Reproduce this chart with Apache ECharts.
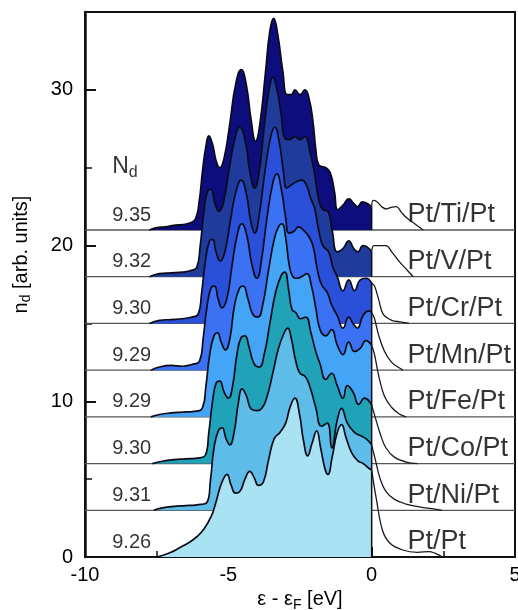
<!DOCTYPE html>
<html><head><meta charset="utf-8">
<script src="https://cdn.jsdelivr.net/npm/echarts/dist/echarts.min.js"></script>
<style>html,body{margin:0;padding:0;background:#fff}#c{width:518px;height:610px}</style>
</head><body><div id="c"></div>
<script>
// ---- data (values relative to each curve's baseline) ----
const systems = ['Pt/Pt','Pt/Ni/Pt','Pt/Co/Pt','Pt/Fe/Pt','Pt/Mn/Pt','Pt/Cr/Pt','Pt/V/Pt','Pt/Ti/Pt'];
const offsets = [0,3,6,9,12,15,18,21];
const ndValues = ['9.26','9.31','9.30','9.29','9.29','9.30','9.32','9.35'];
const xTicks = [-10,-5,0,5];
const yTicks = [0,10,20,30];

const occPtPt = [[-7.55,0],[-7.3,0.1],[-7.0,0.3],[-6.7,0.6],[-6.4,0.9],[-6.1,1.3],[-5.85,1.8],[-5.6,2.6],[-5.45,3.4],[-5.3,4.4],[-5.15,5.1],[-5.05,5.3],[-4.9,4.6],[-4.75,4.1],[-4.6,4.2],[-4.42,5.0],[-4.25,5.5],[-4.1,5.1],[-3.95,4.6],[-3.78,4.8],[-3.6,6.2],[-3.4,7.6],[-3.2,8.0],[-3.0,8.6],[-2.85,9.6],[-2.68,10.2],[-2.52,9.2],[-2.38,7.5],[-2.23,6.5],[-2.08,7.3],[-1.92,8.1],[-1.78,7.0],[-1.62,5.6],[-1.53,5.3],[-1.38,6.4],[-1.2,8.0],[-1.05,8.5],[-0.9,7.7],[-0.7,6.7],[-0.5,6.2],[-0.3,6.0],[-0.1,5.7],[0,5.6]];
const occNi = [[-7.6,0],[-7.3,0.15],[-6.9,0.25],[-6.5,0.3],[-6.1,0.35],[-5.75,0.5],[-5.62,2.0],[-5.5,4.0],[-5.35,5.1],[-5.22,5.3],[-5.08,4.6],[-4.95,4.2],[-4.8,5.0],[-4.65,6.9],[-4.52,7.8],[-4.38,7.4],[-4.2,6.5],[-4.0,6.4],[-3.83,6.55],[-3.65,7.3],[-3.45,8.8],[-3.25,10.4],[-3.05,11.4],[-2.93,11.7],[-2.8,11.0],[-2.65,9.6],[-2.5,8.8],[-2.32,8.6],[-2.15,7.9],[-1.95,6.6],[-1.75,5.4],[-1.55,5.6],[-1.39,4.0],[-1.2,5.8],[-1.05,6.55],[-0.85,5.6],[-0.6,5.0],[-0.4,4.8],[-0.2,4.6],[0,4.2]];
const occCo = [[-7.65,0],[-7.3,0.15],[-6.9,0.25],[-6.5,0.3],[-6.1,0.35],[-5.8,0.55],[-5.68,2.0],[-5.55,4.0],[-5.42,5.2],[-5.3,5.3],[-5.15,4.6],[-5.0,4.2],[-4.85,5.0],[-4.7,7.0],[-4.55,8.1],[-4.42,8.2],[-4.28,7.5],[-4.1,6.4],[-3.92,6.2],[-3.75,7.0],[-3.55,9.0],[-3.35,11.0],[-3.15,12.1],[-3.03,12.3],[-2.9,11.2],[-2.78,9.9],[-2.65,9.7],[-2.48,9.3],[-2.3,9.4],[-2.12,8.4],[-1.95,7.2],[-1.8,6.4],[-1.6,5.4],[-1.4,5.8],[-1.2,5.0],[-1.0,4.2],[-0.85,5.0],[-0.65,4.6],[-0.45,3.8],[-0.25,4.2],[0,3.75]];
const occFe = [[-7.7,0],[-7.4,0.15],[-7.0,0.25],[-6.6,0.3],[-6.2,0.35],[-5.9,0.6],[-5.78,2.0],[-5.65,4.0],[-5.5,5.2],[-5.38,5.4],[-5.25,4.8],[-5.1,4.3],[-4.95,5.0],[-4.78,7.2],[-4.6,8.3],[-4.48,8.4],[-4.32,7.6],[-4.15,6.6],[-3.97,6.4],[-3.8,7.2],[-3.6,9.4],[-3.4,11.4],[-3.25,12.2],[-3.13,12.4],[-3.0,11.5],[-2.88,9.8],[-2.75,9.0],[-2.6,8.9],[-2.45,9.0],[-2.26,9.2],[-2.1,8.4],[-1.95,7.0],[-1.8,5.6],[-1.6,5.2],[-1.4,5.6],[-1.2,4.6],[-1.0,4.0],[-0.8,4.8],[-0.6,4.2],[-0.4,4.4],[-0.2,4.9],[0,4.6]];
const occMn = [[-7.7,0],[-7.4,0.2],[-7.0,0.3],[-6.6,0.25],[-6.3,0.35],[-6.0,0.6],[-5.88,2.0],[-5.75,4.0],[-5.6,5.3],[-5.48,5.4],[-5.36,4.6],[-5.22,4.0],[-5.05,4.6],[-4.88,6.6],[-4.7,8.6],[-4.53,9.4],[-4.35,8.6],[-4.18,6.8],[-4.0,5.9],[-3.85,7.0],[-3.65,9.8],[-3.45,12.0],[-3.31,12.6],[-3.15,11.6],[-3.0,9.8],[-2.88,8.8],[-2.72,8.9],[-2.55,9.2],[-2.38,9.0],[-2.2,8.6],[-2.05,8.0],[-1.9,6.5],[-1.75,5.5],[-1.55,5.0],[-1.4,4.2],[-1.2,3.5],[-1.0,2.7],[-0.8,3.4],[-0.65,3.0],[-0.5,2.7],[-0.3,3.5],[-0.1,3.8],[0,3.7]];
const occCr = [[-7.75,0],[-7.4,0.2],[-7.0,0.25],[-6.6,0.3],[-6.3,0.4],[-6.05,0.6],[-5.93,2.0],[-5.8,4.0],[-5.66,5.3],[-5.55,5.4],[-5.43,4.6],[-5.28,4.0],[-5.12,4.6],[-4.93,6.6],[-4.73,8.5],[-4.55,9.2],[-4.38,8.4],[-4.22,6.6],[-4.08,5.8],[-3.92,7.0],[-3.72,9.8],[-3.52,12.0],[-3.38,12.6],[-3.22,11.6],[-3.08,9.8],[-2.96,8.7],[-2.8,8.9],[-2.62,9.1],[-2.44,9.2],[-2.28,8.9],[-2.12,8.0],[-1.99,7.4],[-1.85,6.0],[-1.7,5.0],[-1.5,4.6],[-1.35,3.6],[-1.2,3.0],[-1.0,2.1],[-0.8,2.8],[-0.6,2.1],[-0.4,2.8],[-0.2,2.9],[0,2.6]];
const occV = [[-7.75,0],[-7.4,0.2],[-7.0,0.25],[-6.6,0.3],[-6.3,0.4],[-6.1,0.6],[-5.98,2.0],[-5.85,4.2],[-5.72,5.5],[-5.6,5.6],[-5.48,4.8],[-5.33,4.2],[-5.18,4.7],[-4.98,6.8],[-4.78,8.8],[-4.6,9.6],[-4.42,8.8],[-4.25,6.8],[-4.08,5.7],[-3.92,6.8],[-3.75,9.6],[-3.58,12.0],[-3.45,12.8],[-3.3,12.0],[-3.15,10.3],[-3.03,8.9],[-2.85,8.8],[-2.68,9.0],[-2.5,8.8],[-2.33,9.0],[-2.15,8.0],[-1.99,6.6],[-1.85,5.0],[-1.7,4.3],[-1.53,4.2],[-1.38,3.0],[-1.2,1.6],[-1.0,1.8],[-0.8,2.3],[-0.62,1.8],[-0.48,1.6],[-0.3,2.0],[-0.15,1.9],[0,1.6]];
const occTi = [[-7.75,0],[-7.5,0.15],[-7.2,0.2],[-6.9,0.3],[-6.6,0.35],[-6.35,0.45],[-6.15,0.7],[-6.02,1.8],[-5.9,3.8],[-5.78,5.4],[-5.68,6.05],[-5.55,5.5],[-5.42,4.4],[-5.3,4.0],[-5.15,4.6],[-4.95,6.8],[-4.75,9.3],[-4.55,10.3],[-4.38,9.4],[-4.2,7.0],[-4.05,5.7],[-3.9,6.8],[-3.7,10.2],[-3.55,12.8],[-3.42,13.6],[-3.28,12.6],[-3.1,10.2],[-2.95,8.7],[-2.8,8.7],[-2.68,9.0],[-2.5,8.7],[-2.33,9.0],[-2.18,8.4],[-2.05,7.0],[-1.95,5.2],[-1.85,4.2],[-1.6,4.0],[-1.45,3.7],[-1.3,2.5],[-1.18,1.3],[-1.0,1.6],[-0.8,2.0],[-0.62,1.7],[-0.49,1.5],[-0.33,1.8],[-0.15,1.7],[0,1.45]];

const unoccPtPt = [[0,5.6],[0.17,3.65],[0.38,1.7],[0.63,0.9],[1.08,0.45],[1.6,0.3],[2.0,0.35],[2.2,0.25],[2.47,0]];
const unoccNi = [[0,4.2],[0.12,3.3],[0.3,2.0],[0.5,1.2],[0.8,0.7],[1.2,0.4],[1.7,0.2],[2.1,0.1],[2.45,0]];
const unoccCo = [[0,3.75],[0.12,3.0],[0.3,1.9],[0.5,1.0],[0.8,0.4],[1.2,0.1],[1.6,0]];
const unoccFe = [[0,4.6],[0.1,4.0],[0.25,2.6],[0.45,1.3],[0.7,0.6],[0.95,0.2],[1.2,0]];
const unoccMn = [[0,3.7],[0.1,3.3],[0.25,2.2],[0.45,1.2],[0.7,0.5],[1.0,0.1],[1.1,0]];
const unoccCr = [[0,2.6],[0.1,2.4],[0.25,1.5],[0.4,0.6],[0.7,0.2],[1.0,0.1],[1.3,0]];
const unoccV = [[0,1.6],[0.08,2.0],[0.3,2.0],[0.5,2.0],[0.7,1.6],[0.95,1.0],[1.2,0.5],[1.45,0]];
const unoccTi = [[0,1.45],[0.05,1.9],[0.16,1.85],[0.35,1.5],[0.51,1.35],[0.68,1.45],[0.86,1.5],[1.05,1.1],[1.21,0.8],[1.5,0.4],[1.8,0]];

const occupied = [occPtPt, occNi, occCo, occFe, occMn, occCr, occV, occTi];
const unoccupied = [unoccPtPt, unoccNi, unoccCo, unoccFe, unoccMn, unoccCr, unoccV, unoccTi];
const fillColors = ['#a9e3f3','#5ebde8','#20a2b9','#44a4f6','#3b72f3','#2a4fd8','#1f3c9c','#0d0d7d'];

// ---- build ----
const FONT = 'Liberation Sans, Arial, Helvetica, sans-serif';
const TXT = '#000';
const OUT = '#0b0b18';
const series = [];
// baselines
offsets.forEach((b) => {
  if (b === 0) return;
  series.push({type:'line', data:[[-10,b],[5,b]], symbol:'none', silent:true,
    lineStyle:{color:'#555', width:1.3}, z:1});
});
// filled curves, top first so lower ones overlay
for (let i = occupied.length - 1; i >= 0; i--) {
  const b = offsets[i];
  series.push({
    type:'line', name: systems[i], symbol:'none', silent:true, smooth:0.5,
    data: occupied[i].map(p => [p[0], b + p[1]]),
    lineStyle:{color:OUT, width:1.7},
    areaStyle:{color: fillColors[i], opacity:1, origin: b},
    z:2
  });
}
// vertical edges at Fermi level
const edges = [];
occupied.forEach((arr, i) => {
  const last = arr[arr.length - 1];
  edges.push([0, offsets[i]], [0, offsets[i] + last[1]], '-');
});
series.push({type:'line', data:edges, symbol:'none', silent:true, connectNulls:false,
  lineStyle:{color:OUT, width:1.5}, z:3});
// unoccupied tails
unoccupied.forEach((arr, i) => {
  series.push({type:'line', symbol:'none', silent:true, smooth:0.4,
    data: arr.map(p => [p[0], offsets[i] + p[1]]),
    lineStyle:{color:'#1a1a1a', width:1.3}, z:3});
});
// N_d values
series.push({type:'scatter', symbolSize:0, silent:true, z:5,
  data: offsets.map((b, i) => ({value:[-9.05, b], name: ndValues[i]})),
  label:{show:true, position:'right', distance:0, offset:[0,-15], formatter:p => p.name,
    fontFamily:FONT, fontSize:20, color:TXT}});
// system labels
series.push({type:'scatter', symbolSize:0, silent:true, z:5,
  data: offsets.map((b, i) => ({value:[1.25, b], name: systems[i]})),
  label:{show:true, position:'right', distance:0, offset:[0,-15], formatter:p => p.name,
    fontFamily:FONT, fontSize:27, color:TXT}});
// N_d header
series.push({type:'scatter', symbolSize:0, silent:true, z:5,
  data:[[-9.05, 25.05]],
  label:{show:true, position:'right', distance:0, formatter:'{n|N}{d|d}',
    rich:{n:{fontFamily:FONT, fontSize:23, color:TXT}, d:{fontFamily:FONT, fontSize:16, color:TXT, padding:[12,0,0,0]}}}});

const chart = echarts.init(document.getElementById('c'), null, {renderer:'canvas'});
chart.setOption({
  animation:false,
  backgroundColor:'#fff',
  grid:{left:85, right:3, top:12, bottom:53, show:true, borderColor:'#111', borderWidth:2, backgroundColor:'transparent', outerBoundsMode:'none', containLabel:false},
  xAxis:{type:'value', min:-10, max:5, interval:5,
    name:'{e|ε - ε}{s|F}{e| [eV]}', nameLocation:'middle', nameGap:30,
    nameTextStyle:{rich:{e:{fontFamily:FONT, fontSize:20, color:TXT}, s:{fontFamily:FONT, fontSize:14, color:TXT, padding:[10,0,0,0]}}},
    axisLine:{show:true, onZero:false, lineStyle:{color:'#111', width:2}},
    axisTick:{show:true, inside:true, length:10, lineStyle:{color:'#111', width:2}},
    minorTick:{show:true, splitNumber:2, length:6, lineStyle:{color:'#111', width:1.5}},
    splitLine:{show:false}, minorSplitLine:{show:false},
    axisLabel:{fontFamily:FONT, fontSize:20, color:TXT, margin:8,
      formatter: v => xTicks.includes(v) ? String(v) : ''}},
  yAxis:{type:'value', min:0, max:35, interval:10,
    name:'{e|n}{s|d}{e| [arb. units]}', nameLocation:'middle', nameGap:52, nameRotate:90,
    nameTextStyle:{padding:[0,0,0,60], rich:{e:{fontFamily:FONT, fontSize:20, color:TXT}, s:{fontFamily:FONT, fontSize:14, color:TXT, padding:[10,0,0,0]}}},
    axisLine:{show:true, onZero:false, lineStyle:{color:'#111', width:2.5}},
    axisTick:{show:true, inside:true, length:11, lineStyle:{color:'#111', width:2}},
    minorTick:{show:true, splitNumber:2, length:7, lineStyle:{color:'#111', width:1.5}},
    splitLine:{show:false}, minorSplitLine:{show:false},
    axisLabel:{fontFamily:FONT, fontSize:20, color:TXT, margin:12,
      formatter: v => yTicks.includes(v) ? String(v) : ''}},
  series: series
});
</script></body></html>
